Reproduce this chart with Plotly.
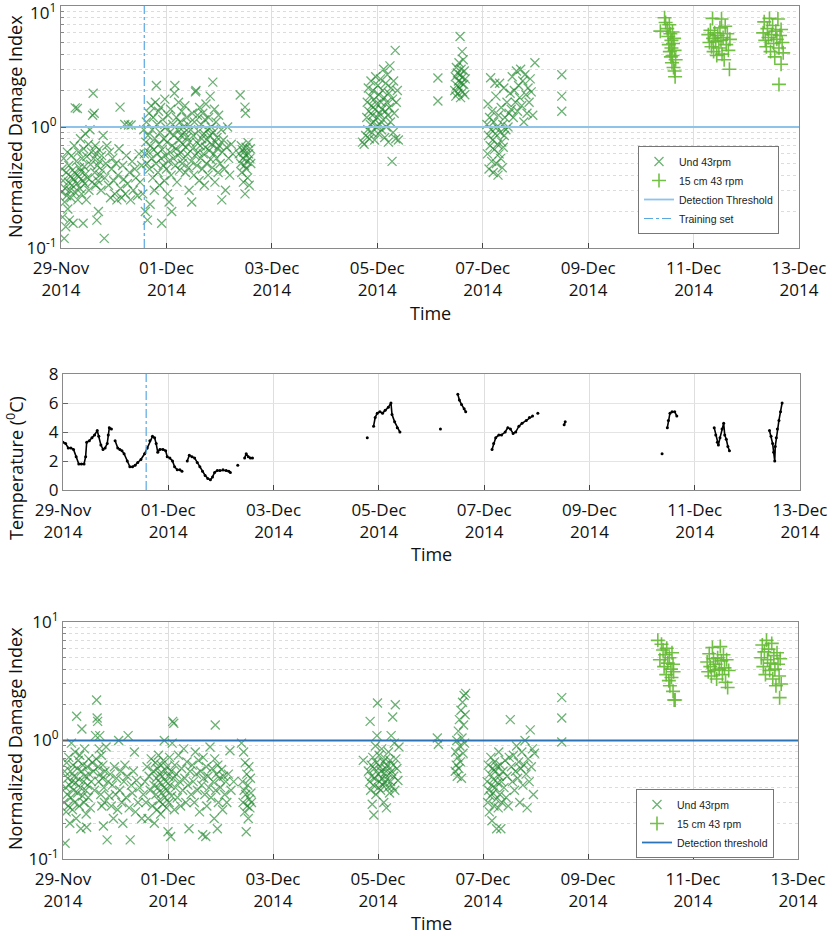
import pandas as pd
import plotly.graph_objects as go

BASE = pd.Timestamp("2014-11-29")

# ---------------- data (day offset from 29-Nov-2014 00:00, value) ----------------
tick_days = [0, 2, 4, 6, 8, 10, 12, 14]
tick_text = ["29-Nov<br>2014", "01-Dec<br>2014", "03-Dec<br>2014", "05-Dec<br>2014",
             "07-Dec<br>2014", "09-Dec<br>2014", "11-Dec<br>2014", "13-Dec<br>2014"]
log_tick_vals = [0.1, 1, 10]
log_tick_text = ["10<sup>-1</sup>", "10<sup>0</sup>", "10<sup>1</sup>"]
temp_tick_vals = [0, 2, 4, 6, 8]
training_day = 1.58
threshold = 1.0

# ---- top panel: Und 43rpm ----
top_und_a = [(0.01,0.29),(0.02,0.45),(0.03,0.18),(0.04,0.36),(0.05,0.55),(0.06,0.12),(0.07,0.24),(0.08,0.31),
             (0.09,0.15),(0.10,0.42),(0.11,0.27),(0.12,0.62),(0.13,0.21),(0.14,0.35),(0.15,0.48),(0.16,0.17),
             (0.17,0.30),(0.18,0.39),(0.19,0.26),(0.20,0.58),(0.21,0.33),(0.22,0.44),(0.23,0.16),(0.24,0.37),
             (0.25,0.70),(0.26,0.29),(0.27,1.44),(0.28,0.41),(0.29,0.52),(0.30,0.34),(0.31,1.42),(0.32,0.25),
             (0.33,0.62),(0.34,0.39),(0.35,0.46),(0.36,0.31),(0.37,0.80),(0.38,0.43),(0.39,0.28),(0.40,0.55),
             (0.41,0.36),(0.42,0.16),(0.43,0.66),(0.44,0.47),(0.45,0.34),(0.46,0.88),(0.47,0.41),(0.48,0.25),
             (0.49,0.57),(0.50,0.38),(0.52,0.72),(0.53,0.30),(0.55,0.95),(0.56,0.49),(0.58,0.62),(0.59,0.35),
             (0.60,1.25),(0.61,1.90),(0.62,0.55),(0.63,1.30),(0.64,0.42),(0.65,0.70),(0.66,0.33),(0.67,0.60),
             (0.68,0.17),(0.69,0.48),(0.70,0.36),(0.71,0.20),(0.72,0.65),(0.73,0.52),(0.74,0.40),(0.76,0.30),
             (0.77,0.58),(0.78,0.44),(0.80,0.85),(0.82,0.12),(0.83,0.38),(0.85,0.50),(0.87,0.70)]
top_und_b = [(0.90,0.33),(0.92,0.62),(0.94,0.26),(0.96,0.45),(0.98,0.55),(1.00,0.36),(1.02,0.28),(1.04,0.50),
             (1.06,0.25),(1.08,0.40),(1.10,0.66),(1.12,1.46),(1.13,0.31),(1.15,0.26),(1.17,0.48),(1.19,0.37),
             (1.21,1.05),(1.22,0.28),(1.24,0.58),(1.26,0.34),(1.28,1.04),(1.30,0.42),(1.32,0.25),(1.33,1.04),
             (1.35,0.52),(1.37,0.30),(1.40,0.45),(1.42,0.38),(1.45,0.27),(1.48,0.60),(1.50,0.35),(1.53,0.48)]
top_und_c = [(1.55,0.28),(1.57,0.95),(1.58,0.60),(1.60,0.20),(1.61,0.75),(1.62,1.10),(1.63,0.50),(1.64,0.17),
             (1.65,0.85),(1.66,0.62),(1.67,1.30),(1.68,0.45),(1.69,0.23),(1.70,0.70),(1.71,1.50),(1.72,0.55),
             (1.73,0.95),(1.74,0.38),(1.75,1.20),(1.76,0.65),(1.77,0.30),(1.78,0.80),(1.79,1.60),(1.80,0.50),
             (1.81,2.20),(1.82,1.05),(1.83,0.60),(1.84,0.42),(1.85,1.35),(1.86,0.72),(1.87,0.33),(1.88,0.90),
             (1.89,1.45),(1.90,0.55),(1.91,0.16),(1.92,0.65),(1.93,1.15),(1.94,0.48),(1.95,0.80),(1.96,0.36),
             (1.97,1.70),(1.98,0.58),(1.99,1.00),(2.00,0.45),(2.01,0.75),(2.02,0.28),(2.03,1.25),(2.04,0.52),
             (2.05,0.24),(2.06,0.90),(2.07,0.62),(2.08,1.40),(2.09,0.40),(2.10,0.20),(2.11,0.70),(2.12,1.05),
             (2.13,0.55),(2.14,0.85),(2.15,1.90),(2.16,2.20),(2.17,0.48),(2.18,0.66),(2.19,1.20),(2.20,0.35),
             (2.21,0.95),(2.22,0.58),(2.23,1.60),(2.24,0.78),(2.25,0.44),(2.26,1.10),(2.27,0.62),(2.28,0.85),
             (2.29,1.35),(2.30,0.50),(2.31,0.72),(2.32,1.00),(2.33,0.55),(2.34,0.90),(2.35,1.50),(2.36,0.42),
             (2.37,0.68),(2.38,1.20),(2.39,0.82),(2.40,0.60),(2.41,1.05),(2.42,0.46),(2.43,0.30),(2.44,0.75)]
top_und_d = [(2.46,0.95),(2.47,0.52),(2.48,0.24),(2.49,1.30),(2.50,0.66),(2.51,0.85),(2.52,0.40),(2.53,1.10),
             (2.54,0.58),(2.55,1.95),(2.56,2.00),(2.57,0.75),(2.58,0.48),(2.59,1.25),(2.60,0.62),(2.61,0.92),
             (2.62,0.36),(2.63,1.45),(2.64,0.70),(2.65,0.55),(2.66,1.05),(2.67,0.80),(2.68,0.45),(2.69,1.30),
             (2.70,0.60),(2.71,0.88),(2.72,0.33),(2.73,1.15),(2.74,0.68),(2.75,1.55),(2.76,0.50),(2.77,0.78),
             (2.78,0.95),(2.79,0.40),(2.80,1.20),(2.81,0.64),(2.82,0.85),(2.83,1.80),(2.84,0.54),(2.85,1.00),
             (2.86,0.72),(2.87,0.46),(2.88,2.35),(2.89,0.90),(2.90,0.60),(2.91,1.40),(2.92,0.35),(2.93,0.75),
             (2.94,1.10),(2.95,0.55),(2.96,0.82),(2.97,0.66),(2.98,0.42),(2.99,1.25),(3.00,0.70),(3.02,0.50),
             (3.04,0.95),(3.05,0.25),(3.06,0.62),(3.08,0.78),(3.10,0.45),(3.12,0.30),(3.14,0.68),(3.16,1.00),
             (3.18,0.55),(3.20,0.40),(3.23,0.72),(3.26,0.60)]
top_und_e = [(3.38,0.60),(3.40,1.84),(3.41,0.50),(3.42,0.70),(3.43,0.42),(3.44,0.65),(3.45,0.55),(3.46,0.35),
             (3.47,0.62),(3.48,0.48),(3.49,1.46),(3.49,0.28),(3.50,1.30),(3.50,0.58),(3.51,0.68),(3.52,0.45),
             (3.53,0.52),(3.54,0.38),(3.55,0.74),(3.56,0.60),(3.57,0.33),(3.58,0.55),(3.59,0.66),(3.60,0.50)]
top_und_f = [(5.72,0.75),(5.75,0.72),(5.78,0.85),(5.80,1.20),(5.81,1.60),(5.82,0.95),(5.83,2.10),(5.84,1.35),
             (5.85,0.80),(5.86,1.80),(5.87,1.05),(5.88,2.40),(5.89,1.50),(5.90,0.90),(5.91,1.25),(5.92,2.00),
             (5.93,1.10),(5.94,1.70),(5.95,0.78),(5.96,1.40),(5.97,2.60),(5.98,1.00),(5.99,1.55),(6.00,1.20),
             (6.01,2.20),(6.02,0.88),(6.03,1.85),(6.04,1.30),(6.05,1.05),(6.06,2.50),(6.07,1.60),(6.08,0.95),
             (6.09,1.40),(6.10,2.00),(6.11,1.15),(6.12,3.00),(6.13,1.75),(6.14,0.82),(6.15,1.35),(6.16,2.30),
             (6.17,1.00),(6.18,1.60),(6.19,2.70),(6.20,1.25),(6.21,0.75),(6.22,1.90),(6.23,1.45),(6.24,3.20),
             (6.25,1.10),(6.26,2.10),(6.28,0.52),(6.29,1.70),(6.30,0.90),(6.31,2.40),(6.32,1.30),(6.34,4.30),
             (6.35,0.80),(6.36,1.60),(6.38,2.00),(6.40,0.78)]
top_und_g = [(7.15,2.54),(7.15,1.64),
             (7.47,2.00),(7.48,2.60),(7.49,1.80),(7.50,3.10),(7.51,2.20),(7.52,2.80),(7.53,1.90),(7.54,2.40),
             (7.55,3.40),(7.56,2.10),(7.57,5.60),(7.57,2.70),(7.58,1.75),(7.59,3.00),(7.60,2.30),(7.61,4.20),
             (7.61,2.55),(7.62,1.95),(7.63,3.60),(7.64,2.25),(7.65,2.90),(7.66,1.85),(7.67,2.50)]
top_und_h = [(8.08,1.05),(8.09,0.60),(8.10,1.55),(8.11,0.85),(8.12,0.45),(8.13,1.20),(8.14,0.70),(8.15,2.55),
             (8.16,0.95),(8.17,0.52),(8.18,1.35),(8.19,0.78),(8.20,0.42),(8.21,1.10),(8.22,0.65),(8.23,2.30),
             (8.24,0.88),(8.25,1.80),(8.26,0.50),(8.27,1.00),(8.28,0.72),(8.29,0.40),(8.30,1.25),(8.31,0.60),
             (8.32,2.30),(8.33,0.90),(8.34,0.55),(8.35,1.45),(8.36,0.75),(8.37,0.46),(8.38,1.05),(8.39,0.68),
             (8.40,2.10),(8.41,0.85),(8.42,1.20),(8.44,0.95),(8.46,1.60),(8.48,1.00),(8.50,1.30)]
top_und_i = [(8.52,1.90),(8.54,1.40),(8.56,2.60),(8.58,1.20),(8.60,2.00),(8.62,1.60),(8.64,2.90),(8.66,1.35),
             (8.68,2.20),(8.70,1.75),(8.72,3.00),(8.74,1.50),(8.76,2.40),(8.78,1.10),(8.80,2.70),(8.82,1.85),
             (8.84,1.30),(8.86,2.10),(8.88,1.60),(8.90,2.50),(8.92,1.95),(8.95,1.25),(8.99,3.40),
             (9.50,2.70),(9.50,1.80),(9.50,1.35)]

# ---- top panel: 15 cm 43 rpm ----
top_cm_a = [(11.37,6.2),(11.45,8.0),(11.47,7.3),(11.50,6.5),(11.52,5.6),(11.53,4.8),(11.54,7.0),(11.55,4.2),
            (11.56,5.9),(11.57,3.8),(11.58,5.2),(11.58,4.5),(11.59,3.4),(11.60,6.1),(11.60,3.9),(11.61,4.9),
            (11.62,3.1),(11.63,5.4),(11.64,4.3),(11.64,2.9),(11.65,2.6),(11.66,3.6)]
top_cm_b = [(12.28,5.8),(12.30,5.0),(12.32,6.3),(12.34,4.6),(12.36,7.9),(12.37,5.4),(12.38,4.2),(12.40,6.0),
            (12.42,5.1),(12.44,3.9),(12.46,5.7),(12.48,4.5),(12.50,6.6),(12.52,5.2),(12.53,7.8),(12.54,4.0),
            (12.56,5.5),(12.58,3.6),(12.60,6.8),(12.62,4.8),(12.64,5.9),(12.66,4.3),(12.68,3.0),(12.69,5.3)]
top_cm_c = [(13.32,6.0),(13.34,7.4),(13.36,5.2),(13.38,4.6),(13.40,6.5),(13.42,5.5),(13.44,7.9),(13.46,4.2),
            (13.48,5.8),(13.50,6.9),(13.52,4.9),(13.54,3.8),(13.56,6.2),(13.58,5.3),(13.60,7.8),(13.62,4.5),
            (13.64,5.7),(13.66,3.3),(13.68,5.0),(13.70,4.1),(13.62,2.25),(13.66,6.4)]

# ---- middle panel: temperature (None = gap in record) ----
temp_pts = [(0.00,3.3),(0.05,3.2),(0.10,2.9),(0.15,2.9),(0.20,2.8),(0.25,2.3),(0.30,1.8),(0.35,1.8),(0.40,1.8),
            (0.43,2.3),(0.45,3.3),(0.50,3.4),(0.55,3.6),(0.60,3.8),(0.65,4.1),(0.68,3.7),(0.72,3.1),(0.76,2.8),
            (0.80,2.9),(0.84,3.2),(0.86,3.8),(0.88,4.3),(0.92,4.2),None,
            (0.99,3.4),(1.04,2.9),(1.08,2.8),(1.12,2.7),(1.16,2.5),(1.22,2.0),(1.27,1.6),(1.32,1.6),(1.37,1.7),
            (1.42,1.9),(1.48,2.1),(1.55,2.5),(1.60,2.9),(1.65,3.4),(1.70,3.7),(1.74,3.6),(1.77,3.2),(1.80,2.6),
            (1.84,2.8),(1.90,2.8),(1.95,2.7),(1.98,2.3),(2.03,2.2),(2.08,2.0),(2.12,1.6),(2.17,1.4),(2.22,1.4),
            (2.26,1.3),None,
            (2.36,2.0),(2.40,2.4),(2.45,2.3),(2.50,2.2),(2.55,1.9),(2.60,1.6),(2.65,1.3),(2.70,1.0),(2.75,0.8),
            (2.80,0.7),(2.84,0.9),(2.88,1.2),(2.93,1.35),(2.98,1.35),(3.04,1.4),(3.10,1.35),(3.15,1.3),(3.18,1.2),None,
            (3.32,1.7),None,
            (3.45,2.2),(3.48,2.5),(3.52,2.3),(3.56,2.2),(3.60,2.2),None,
            (5.78,3.6),None,
            (5.90,4.4),(5.93,5.0),(5.97,5.3),(6.02,5.4),(6.07,5.3),(6.12,5.5),(6.18,5.7),(6.23,6.0),(6.25,5.2),
            (6.30,4.7),(6.35,4.3),(6.40,4.0),None,
            (7.17,4.2),None,
            (7.50,6.6),(7.53,6.2),(7.57,5.9),(7.62,5.6),(7.65,5.4),None,
            (8.15,2.8),(8.18,3.2),(8.22,3.6),(8.28,3.8),(8.33,3.8),(8.40,4.0),(8.45,4.3),(8.50,4.2),(8.55,3.9),
            (8.60,4.0),(8.66,4.4),(8.72,4.6),(8.80,4.8),(8.86,5.0),(8.92,5.1),None,
            (9.02,5.3),None,
            (9.52,4.5),(9.54,4.7),None,
            (11.38,2.5),None,
            (11.48,4.3),(11.50,4.8),(11.53,5.3),(11.57,5.4),(11.62,5.4),(11.66,5.1),None,
            (12.37,4.3),(12.40,3.8),(12.43,3.3),(12.45,3.1),(12.48,3.6),(12.52,4.2),(12.55,4.6),(12.57,3.8),
            (12.60,3.5),(12.63,3.0),(12.66,2.7),None,
            (13.42,4.1),(13.45,3.7),(13.48,3.2),(13.50,2.6),(13.52,2.0),(13.53,3.0),(13.55,3.6),(13.57,4.2),
            (13.60,4.8),(13.63,5.4),(13.66,6.0)]

# ---- bottom panel: Und 43rpm ----
bot_und_a = [(0.02,0.30),(0.03,0.55),(0.04,0.136),(0.05,0.40),(0.06,0.25),(0.07,0.65),(0.08,0.35),(0.09,0.48),
             (0.10,0.28),(0.11,0.72),(0.12,0.42),(0.13,0.20),(0.14,0.55),(0.15,0.33),(0.16,0.95),(0.17,0.45),
             (0.18,0.26),(0.19,0.62),(0.20,0.38),(0.21,0.50),(0.22,0.30),(0.23,0.80),(0.24,0.44),(0.25,0.22),
             (0.26,1.60),(0.27,0.58),(0.28,0.36),(0.29,0.68),(0.30,0.47),(0.31,0.28),(0.32,0.75),(0.33,0.40),
             (0.34,0.18),(0.35,0.55),(0.36,1.25),(0.37,0.34),(0.38,0.62),(0.39,0.45),(0.40,0.30),(0.41,0.85),
             (0.42,0.50),(0.43,0.38),(0.44,0.24),(0.45,0.185),(0.46,0.60),(0.47,0.42),(0.48,0.33),(0.49,0.70),
             (0.50,0.52),(0.52,0.27),(0.54,0.45),(0.56,0.65),(0.58,0.55),(0.60,0.38),(0.62,1.10),(0.63,0.70),
             (0.64,2.20),(0.65,1.55),(0.66,1.45),(0.67,0.60),(0.68,0.45),(0.69,0.85),(0.70,1.10),(0.71,0.52),
             (0.72,0.35),(0.73,0.75),(0.74,0.28),(0.75,0.48),(0.76,0.62),(0.77,0.19),(0.78,0.40),(0.79,0.30),
             (0.80,0.55),(0.82,0.88),(0.84,0.145),(0.86,0.45),(0.88,0.34)]
bot_und_b = [(0.90,0.52),(0.92,0.28),(0.94,0.42),(0.96,0.22),(0.98,0.60),(1.00,0.35),(1.02,0.48),(1.04,0.26),
             (1.06,1.00),(1.08,0.38),(1.10,0.55),(1.12,0.30),(1.14,0.20),(1.16,0.45),(1.18,0.62),(1.20,0.33),
             (1.22,0.50),(1.24,1.10),(1.26,0.27),(1.28,0.145),(1.30,0.42),(1.32,0.36),(1.34,0.55),(1.36,0.80),
             (1.38,0.25),(1.40,0.46),(1.43,0.30),(1.46,0.40),(1.50,0.22),(1.53,0.35)]
bot_und_c = [(1.56,0.45),(1.58,0.30),(1.60,0.60),(1.62,0.22),(1.64,0.50),(1.66,0.38),(1.68,0.70),(1.70,0.28),
             (1.72,0.55),(1.73,0.42),(1.74,0.20),(1.76,0.65),(1.77,0.35),(1.78,0.48),(1.79,0.26),(1.80,0.58),
             (1.81,0.40),(1.82,0.75),(1.83,0.31),(1.84,0.52),(1.85,0.44),(1.86,0.24),(1.87,0.62),(1.88,0.36),
             (1.89,0.50),(1.90,0.29),(1.91,0.68),(1.92,0.40),(1.93,1.00),(1.94,0.33),(1.95,0.56),(1.96,0.45),
             (1.97,0.27),(1.98,0.60),(1.99,0.38),(2.00,0.17),(2.01,0.50),(2.02,0.30),(2.03,0.72),(2.04,0.42),
             (2.05,0.155),(2.06,0.55),(2.07,0.34),(2.08,0.95),(2.09,1.45),(2.10,0.48),(2.11,1.40),(2.12,0.26),
             (2.13,0.62),(2.14,0.40),(2.16,0.52),(2.18,0.33),(2.20,0.75),(2.22,0.45),(2.24,0.28),(2.26,0.58),
             (2.28,0.38),(2.30,0.85),(2.32,0.48),(2.34,0.30),(2.36,0.66),(2.38,0.42),(2.40,0.18),(2.42,0.55),
             (2.44,0.35)]
bot_und_d = [(2.46,0.62),(2.48,0.45),(2.50,0.30),(2.52,0.80),(2.54,0.52),(2.56,0.38),(2.58,0.68),(2.60,0.25),
             (2.62,0.55),(2.64,0.42),(2.66,0.16),(2.67,0.72),(2.68,0.48),(2.70,0.35),(2.72,0.155),(2.73,0.60),
             (2.74,0.28),(2.76,0.50),(2.78,0.40),(2.80,0.88),(2.82,0.33),(2.84,0.58),(2.86,0.45),(2.88,0.22),
             (2.89,0.70),(2.90,1.35),(2.91,0.38),(2.92,0.52),(2.94,0.18),(2.95,0.62),(2.96,0.30),(2.98,0.48),
             (3.00,0.40),(3.02,0.57),(3.04,0.26),(3.06,0.50),(3.08,0.35),(3.10,0.45),(3.12,0.30),(3.15,0.52),
             (3.18,0.82),(3.20,0.38),(3.25,0.45)]
bot_und_e = [(3.40,0.95),(3.42,0.45),(3.43,0.30),(3.44,0.80),(3.45,0.38),(3.46,0.25),(3.47,0.65),(3.48,0.35),
             (3.49,0.17),(3.50,0.52),(3.51,0.28),(3.52,0.42),(3.53,0.22),(3.54,0.60),(3.55,0.32),(3.56,0.27),
             (3.57,0.48),(3.58,0.36),(3.59,0.30)]
bot_und_f = [(5.72,0.68),(5.82,0.55),(5.84,0.45),(5.85,1.45),(5.86,0.38),(5.87,0.62),(5.88,0.50),(5.89,0.29),
             (5.90,0.72),(5.91,0.42),(5.92,0.235),(5.93,0.58),(5.94,0.48),(5.95,0.90),(5.96,0.35),(5.97,0.65),
             (5.98,1.10),(5.99,2.07),(6.00,0.52),(6.01,0.40),(6.02,0.75),(6.03,0.45),(6.04,0.60),(6.05,0.38),
             (6.06,0.55),(6.07,0.85),(6.08,0.48),(6.09,0.42),(6.10,0.66),(6.11,0.30),(6.12,0.53),(6.13,0.44),
             (6.14,0.70),(6.15,0.58),(6.16,0.27),(6.17,0.47),(6.18,0.62),(6.19,0.40),(6.20,0.80),(6.21,0.52),
             (6.22,0.36),(6.23,0.68),(6.24,0.45),(6.25,1.10),(6.26,0.55),(6.27,0.41),(6.28,1.58),(6.29,0.62),
             (6.30,0.50),(6.31,0.95),(6.32,0.38),(6.33,2.00),(6.34,0.70),(6.36,0.58),(6.38,0.46),(6.40,0.88)]
bot_und_g = [(7.13,1.05),(7.15,0.93),
             (7.47,0.55),(7.48,0.80),(7.49,0.62),(7.50,1.00),(7.51,0.50),(7.52,0.72),(7.53,1.20),(7.54,0.58),
             (7.55,1.50),(7.56,0.90),(7.57,0.66),(7.58,1.80),(7.59,0.48),(7.60,1.05),(7.61,2.10),(7.62,0.78),
             (7.63,1.35),(7.64,2.40),(7.65,0.95),(7.66,1.65),(7.67,2.50)]
bot_und_h = [(8.08,0.45),(8.09,0.30),(8.10,0.62),(8.11,0.38),(8.12,0.25),(8.13,0.52),(8.14,0.34),(8.15,0.72),
             (8.16,0.42),(8.17,0.21),(8.18,0.58),(8.19,0.36),(8.20,0.47),(8.21,0.28),(8.22,0.66),(8.23,0.40),
             (8.24,0.55),(8.25,0.32),(8.26,0.18),(8.27,0.60),(8.28,0.44),(8.29,0.27),(8.30,0.80),(8.31,0.50),
             (8.32,0.35),(8.33,0.62),(8.34,0.18),(8.35,0.45),(8.36,0.30),(8.38,0.55),(8.40,0.40),(8.42,0.68),
             (8.44,0.33),(8.46,0.50),(8.48,0.28),(8.50,0.72),(8.52,1.50)]
bot_und_i = [(8.54,0.60),(8.56,0.45),(8.58,0.75),(8.60,0.38),(8.62,0.55),(8.64,0.90),(8.66,0.48),(8.68,0.66),
             (8.70,0.30),(8.72,0.58),(8.74,0.80),(8.76,0.42),(8.78,0.62),(8.80,1.00),(8.82,0.52),(8.84,0.27),
             (8.86,0.70),(8.88,0.45),(8.90,1.23),(8.92,0.60),(8.94,0.85),(8.96,0.35),(8.98,0.78),
             (9.50,2.30),(9.50,1.55),(9.50,0.97)]

# ---- bottom panel: 15 cm 43 rpm ----
bot_cm_a = [(11.33,7.0),(11.37,4.8),(11.40,6.5),(11.43,5.8),(11.45,4.2),(11.47,5.3),(11.49,3.6),(11.50,6.0),
            (11.52,4.5),(11.54,3.2),(11.55,5.0),(11.56,2.9),(11.58,4.0),(11.59,3.4),(11.60,5.5),(11.62,2.6),
            (11.62,4.4),(11.64,2.2),(11.66,2.2),(11.63,3.8)]
bot_cm_b = [(12.27,4.6),(12.29,3.8),(12.31,5.4),(12.33,4.2),(12.35,3.5),(12.37,6.1),(12.39,4.9),(12.41,3.9),
            (12.43,4.4),(12.45,3.3),(12.47,5.0),(12.50,4.0),(12.52,6.2),(12.54,4.7),(12.56,3.6),(12.58,5.3),
            (12.60,4.1),(12.62,3.1),(12.64,4.8),(12.66,2.8),(12.68,3.9)]
bot_cm_c = [(13.30,5.0),(13.32,6.4),(13.34,4.2),(13.36,5.6),(13.38,3.6),(13.40,7.0),(13.42,4.8),(13.44,5.9),
            (13.46,3.9),(13.48,4.5),(13.50,6.6),(13.52,3.3),(13.54,5.2),(13.56,4.0),(13.58,2.9),(13.60,5.5),
            (13.62,4.4),(13.64,3.5),(13.66,4.9),(13.68,3.0),(13.65,2.3)]


# ---------------- helpers ----------------
def t(d):
    return BASE + pd.Timedelta(days=d)


def unzip(*groups):
    xs, ys = [], []
    for g in groups:
        for p in g:
            if p is None:
                xs.append(None)
                ys.append(None)
            else:
                xs.append(t(p[0]))
                ys.append(p[1])
    return xs, ys


X_START, X_END = t(0), t(14)
tick_vals = [t(d) for d in tick_days]

UND_COLOR = "rgba(30,135,45,0.65)"
CM_COLOR = "rgba(100,185,50,0.9)"
THR_TOP = "#8fc3ea"
THR_BOT = "#2b74b8"
TRAIN = "#5aa8e0"
FONT = "Open Sans"
LEG_FONT = "Liberation Sans"

fig = go.Figure()

# --- top panel ---
x, y = unzip(top_und_a, top_und_b, top_und_c, top_und_d, top_und_e, top_und_f, top_und_g, top_und_h, top_und_i)
fig.add_trace(go.Scatter(x=x, y=y, mode="markers", name="Und 43rpm", xaxis="x", yaxis="y", legend="legend",
                         marker=dict(symbol="x-thin-open", size=9, color=UND_COLOR,
                                     line=dict(width=1.3, color=UND_COLOR))))
x, y = unzip(top_cm_a, top_cm_b, top_cm_c)
fig.add_trace(go.Scatter(x=x, y=y, mode="markers", name="15 cm 43 rpm", xaxis="x", yaxis="y", legend="legend",
                         marker=dict(symbol="cross-thin-open", size=10, color=CM_COLOR,
                                     line=dict(width=1.6, color=CM_COLOR))))
fig.add_trace(go.Scatter(x=[X_START, X_END], y=[threshold, threshold], mode="lines", name="Detection Threshold",
                         xaxis="x", yaxis="y", legend="legend", line=dict(color=THR_TOP, width=1.8)))
fig.add_trace(go.Scatter(x=[t(training_day), t(training_day)], y=[0.1, 10], mode="lines", name="Training set",
                         xaxis="x", yaxis="y", legend="legend", line=dict(color=TRAIN, width=1.2, dash="dashdot")))

# --- middle panel ---
x, y = unzip(temp_pts)
fig.add_trace(go.Scatter(x=x, y=y, mode="lines+markers", name="Temperature", xaxis="x2", yaxis="y2",
                         showlegend=False, connectgaps=False,
                         line=dict(color="black", width=1.6), marker=dict(color="black", size=3)))
fig.add_trace(go.Scatter(x=[t(training_day), t(training_day)], y=[0, 8], mode="lines", showlegend=False,
                         xaxis="x2", yaxis="y2", line=dict(color=TRAIN, width=1.2, dash="dashdot")))

# --- bottom panel ---
x, y = unzip(bot_und_a, bot_und_b, bot_und_c, bot_und_d, bot_und_e, bot_und_f, bot_und_g, bot_und_h, bot_und_i)
fig.add_trace(go.Scatter(x=x, y=y, mode="markers", name="Und 43rpm", xaxis="x3", yaxis="y3", legend="legend2",
                         marker=dict(symbol="x-thin-open", size=9, color=UND_COLOR,
                                     line=dict(width=1.3, color=UND_COLOR))))
x, y = unzip(bot_cm_a, bot_cm_b, bot_cm_c)
fig.add_trace(go.Scatter(x=x, y=y, mode="markers", name="15 cm 43 rpm", xaxis="x3", yaxis="y3", legend="legend2",
                         marker=dict(symbol="cross-thin-open", size=10, color=CM_COLOR,
                                     line=dict(width=1.6, color=CM_COLOR))))
fig.add_trace(go.Scatter(x=[X_START, X_END], y=[threshold, threshold], mode="lines", name="Detection threshold",
                         xaxis="x3", yaxis="y3", legend="legend2", line=dict(color=THR_BOT, width=1.8)))

W, H = 839, 936


def xd(a, b):
    return [a / W, b / W]


def yd(top, bot):
    return [(H - bot) / H, (H - top) / H]


tickfont = dict(family=FONT, size=17, color="#111")
xcommon = dict(type="date", range=[X_START, X_END], tickvals=tick_vals, ticktext=tick_text,
               automargin=False, ticklabelstandoff=4,
               showgrid=True, gridcolor="#dedede", gridwidth=1, showline=True, mirror=True,
               linecolor="#8a8a8a", linewidth=1.2, ticks="inside", ticklen=5, tickcolor="#444",
               tickfont=tickfont, zeroline=False)
logcommon = dict(type="log", range=[-1.0001, 1.0001], tickvals=log_tick_vals,
                 automargin=False, ticklabeloverflow="allow",
                 showline=True, mirror=True, linecolor="#8a8a8a", linewidth=1.2,
                 ticks="inside", ticklen=5, tickcolor="#666", tickfont=tickfont,
                 showgrid=True, gridcolor="#dcdcdc", griddash="dot", zeroline=False,
                 minor=dict(dtick="D1", showgrid=True, gridcolor="#dcdcdc", griddash="dot",
                            ticks="inside", ticklen=3, tickcolor="#888"))

legend_common = dict(xanchor="left", yanchor="bottom", bgcolor="white", bordercolor="#777", borderwidth=1,
                     font=dict(family=LEG_FONT, size=10.5, color="#222"), itemwidth=30, tracegroupgap=0)

# the top panel's "10^1" label sits at the page edge; it is drawn just inside
top_log_text = ["10<sup>-1</sup>", "10<sup>0</sup>", ""]

fig.update_layout(
    width=W, height=H, plot_bgcolor="white", paper_bgcolor="white",
    margin=dict(l=0, r=0, t=0, b=0, autoexpand=False),
    font=dict(family=FONT, color="#111"),
    xaxis=dict(domain=xd(61, 799), anchor="y", **xcommon),
    yaxis=dict(domain=yd(6, 248), anchor="x", ticktext=top_log_text, **logcommon),
    xaxis2=dict(domain=xd(63, 800), anchor="y2", **xcommon),
    yaxis2=dict(domain=yd(374, 490), anchor="x2", range=[0, 8.001], tickvals=temp_tick_vals,
                automargin=False,
                showline=True, mirror=True, linecolor="#8a8a8a", linewidth=1.2, ticks="inside",
                ticklen=5, tickcolor="#666", tickfont=tickfont, showgrid=True, gridcolor="#e4e4e4",
                zeroline=False),
    xaxis3=dict(domain=xd(63, 798), anchor="y3", **xcommon),
    yaxis3=dict(domain=yd(622, 859), anchor="x3", ticktext=log_tick_text, **logcommon),
    legend=dict(x=638 / W, y=(H - 234) / H, **legend_common),
    legend2=dict(x=636 / W, y=(H - 858) / H, **legend_common),
    showlegend=True,
)

# top "10^1" tick label, placed on the y axis scale (log10 units) and nudged into the page
fig.add_annotation(xref="x domain", yref="y", x=0, y=1, xanchor="right", yanchor="middle",
                   xshift=-3, yshift=-5, showarrow=False, text=log_tick_text[2], font=tickfont)

title_font = dict(family=FONT, size=18, color="#111")
ann = [
    dict(text="Normalized Damage Index", x=15 / W, y=(H - 127) / H, textangle=-90),
    dict(text="Temperature (<sup>0</sup>C)", x=15 / W, y=(H - 468) / H, textangle=-90),
    dict(text="Normalized Damage Index", x=15 / W, y=(H - 739) / H, textangle=-90),
    dict(text="Time", x=430 / W, y=(H - 313) / H, textangle=0),
    dict(text="Time", x=431 / W, y=(H - 554) / H, textangle=0),
    dict(text="Time", x=431 / W, y=(H - 923) / H, textangle=0),
]
for a in ann:
    fig.add_annotation(xref="paper", yref="paper", xanchor="center", yanchor="middle",
                       showarrow=False, font=title_font, **a)

fig.write_html("out.html", config={"displayModeBar": False},
               post_script="document.body.style.margin='0px';")
